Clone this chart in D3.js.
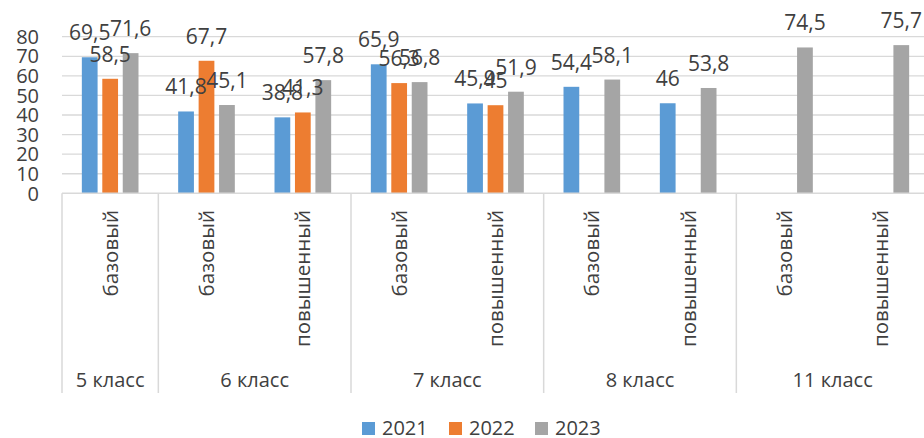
<!DOCTYPE html>
<html>
<head>
<meta charset="utf-8">
<script src="https://cdn.jsdelivr.net/npm/d3@7"></script>
<style>
  html, body { margin: 0; padding: 0; background: #ffffff; }
  svg { display: block; }
  text { font-family: "Open Sans", "Noto Sans", sans-serif; fill: #404040; }
</style>
</head>
<body>
<svg id="chart" width="924" height="438"></svg>
<script>
// ---- data ----
const groups = ["5 класс", "6 класс", "7 класс", "8 класс", "11 класс"];
const subcats = [
  ["5 класс", "базовый"],
  ["6 класс", "базовый"],
  ["6 класс", "повышенный"],
  ["7 класс", "базовый"],
  ["7 класс", "повышенный"],
  ["8 класс", "базовый"],
  ["8 класс", "повышенный"],
  ["11 класс", "базовый"],
  ["11 класс", "повышенный"]
];
const seriesNames = ["2021", "2022", "2023"];
const values2021 = [69.5, 41.8, 38.8, 65.9, 45.9, 54.4, 46, null, null];
const values2022 = [58.5, 67.7, 41.3, 56.3, 45, null, null, null, null];
const values2023 = [71.6, 45.1, 57.8, 56.8, 51.9, 58.1, 53.8, 74.5, 75.7];
const yTicks = [0, 10, 20, 30, 40, 50, 60, 70, 80];
const colors = ["#5b9bd5", "#ed7d31", "#a5a5a5"];

// ---- layout ----
const svg = d3.select("#chart");
const left = 62, right = 929, y0 = 193.3, yTop = 36.7;
const x = d3.scaleBand().domain(d3.range(subcats.length)).range([left, right]).paddingInner(0).paddingOuter(0);
const xs = d3.scaleBand().domain(seriesNames).range([0, x.bandwidth()]).paddingInner(0.23).paddingOuter(0.97);
const y = d3.scaleLinear().domain([0, 80]).range([y0, yTop]);
const fmt = v => String(v).replace(".", ",");

// gridlines
svg.append("g").selectAll("line").data(yTicks.filter(t => t > 0)).join("line")
  .attr("x1", left).attr("x2", right)
  .attr("y1", d => y(d)).attr("y2", d => y(d))
  .attr("stroke", "#d9d9d9").attr("stroke-width", 1.3);

// y tick labels
svg.append("g").selectAll("text").data(yTicks).join("text")
  .attr("x", 39).attr("y", d => y(d)).attr("dy", "0.36em")
  .attr("text-anchor", "end").attr("font-size", 20)
  .text(d => d);

// bars
const allSeries = [values2021, values2022, values2023];
const barData = [];
allSeries.forEach((vals, si) => vals.forEach((v, i) => {
  if (v !== null) barData.push({ i, si, v });
}));
svg.append("g").selectAll("rect").data(barData).join("rect")
  .attr("x", d => x(d.i) + xs(seriesNames[d.si]))
  .attr("width", xs.bandwidth())
  .attr("y", d => y(d.v))
  .attr("height", d => y(0) - y(d.v))
  .attr("fill", d => colors[d.si]);

// data labels
svg.append("g").selectAll("text").data(barData).join("text")
  .attr("x", d => x(d.i) + xs(seriesNames[d.si]) + xs.bandwidth() / 2)
  .attr("y", d => y(d.v) - 17)
  .attr("text-anchor", "middle").attr("font-size", 21)
  .text(d => fmt(d.v));

// category axis line
svg.append("line").attr("x1", left).attr("x2", right).attr("y1", y0).attr("y2", y0)
  .attr("stroke", "#d9d9d9").attr("stroke-width", 1.5);

// group separators
const groupBounds = [];
groups.forEach(g => {
  const idx = subcats.map((s, i) => s[0] === g ? i : -1).filter(i => i >= 0);
  groupBounds.push({ g, start: x(idx[0]), end: x(idx[idx.length - 1]) + x.bandwidth() });
});
const sepXs = [left].concat(groupBounds.map(b => b.end));
svg.append("g").selectAll("line").data(sepXs).join("line")
  .attr("x1", d => d).attr("x2", d => d).attr("y1", y0).attr("y2", 393)
  .attr("stroke", "#d9d9d9").attr("stroke-width", 1.5);

// subcategory labels (rotated)
svg.append("g").selectAll("text").data(subcats).join("text")
  .attr("transform", (d, i) => `translate(${x(i) + x.bandwidth() / 2},210) rotate(-90)`)
  .attr("text-anchor", "end").attr("dy", "0.36em").attr("font-size", 20.5)
  .text(d => d[1]);

// group labels
svg.append("g").selectAll("text").data(groupBounds).join("text")
  .attr("x", d => (d.start + d.end) / 2).attr("y", 387)
  .attr("text-anchor", "middle").attr("font-size", 20)
  .text(d => d.g);

// legend
const legendX = [362, 449, 535];
const lg = svg.append("g").selectAll("g").data(seriesNames).join("g")
  .attr("transform", (d, i) => `translate(${legendX[i]},0)`);
lg.append("rect").attr("x", 0).attr("y", 422).attr("width", 13).attr("height", 13)
  .attr("fill", (d, i) => colors[i]);
lg.append("text").attr("x", 20).attr("y", 435).attr("font-size", 20).text(d => d);
</script>
</body>
</html>
